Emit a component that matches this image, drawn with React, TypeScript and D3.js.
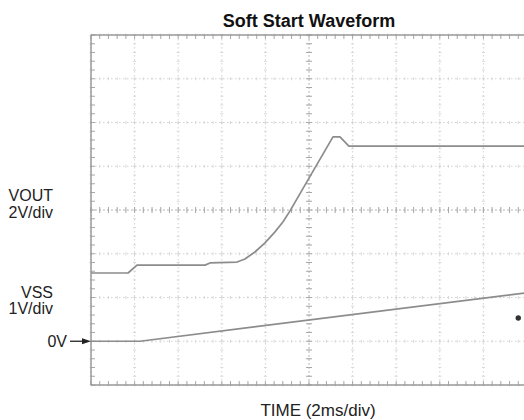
import React from "react";
import * as d3 from "d3";

// Time axis: 2 ms/div, 10 divisions; vertical axis: 8 screen divisions
const timeDomain = [0, 20];
const divDomain = [0, 8];
const timeGrid = [0, 2, 4, 6, 8, 10, 12, 14, 16, 18, 20];
const divGrid = [0, 1, 2, 3, 4, 5, 6, 7, 8];

// VOUT trace (2V/div), in screen divisions
const voutTime = [0, 1.7, 2.11, 5.23, 5.46, 6.7, 7.06, 7.52, 7.98, 8.44, 8.81, 9.13, 10.0, 11.1, 11.42, 11.83, 20];
const voutDiv = [2.56, 2.56, 2.74, 2.74, 2.79, 2.81, 2.88, 3.04, 3.25, 3.5, 3.73, 3.98, 4.73, 5.67, 5.67, 5.46, 5.46];

// VSS trace (1V/div), in screen divisions (0V at 1 div)
const vssTime = [0, 2.25, 20];
const vssDiv = [1.0, 1.0, 2.11];

const markerTime = [19.6];
const markerDiv = [1.53];

const title = "Soft Start Waveform";
const xLabel = "TIME (2ms/div)";
const vLabels = [
  { lines: ["VOUT", "2V/div"], div: 4.2 },
  { lines: ["VSS", "1V/div"], div: 2.0 },
];
const zeroLabel = "0V";
const zeroDiv = 1;

const W = 524;
const H = 420;

export default function App() {
  const x = d3.scaleLinear().domain(timeDomain).range([91, 527]);
  const y = d3.scaleLinear().domain(divDomain).range([385, 35]);
  const line = d3
    .line<[number, number]>()
    .x((d) => x(d[0]))
    .y((d) => y(d[1]));
  const vout = voutTime.map((t, i) => [t, voutDiv[i]] as [number, number]);
  const vss = vssTime.map((t, i) => [t, vssDiv[i]] as [number, number]);

  const minorX: number[] = [];
  for (let t = 0; t <= 20.0001; t += 0.4) minorX.push(t);
  const minorY: number[] = [];
  for (let d = 0; d <= 8.0001; d += 0.2) minorY.push(d);

  const gridColor = "#d4d4d4";
  const font = "Liberation Sans, Arial, Helvetica, sans-serif";
  const [x0, x1] = x.range();
  const [y0, y1] = y.range();

  return (
    <svg width={W} height={H} style={{ position: "fixed", left: 0, top: 0, background: "#fff" }}>
      <rect width={W} height={H} fill="#fff" />
      {/* dotted grid */}
      {timeGrid.map((t) => (
        <line key={"gv" + t} x1={x(t)} x2={x(t)} y1={y1} y2={y0} stroke={gridColor} strokeWidth={1} strokeDasharray="1.5,2.5" />
      ))}
      {divGrid.map((d) => (
        <line key={"gh" + d} x1={x0} x2={x1} y1={y(d)} y2={y(d)} stroke={gridColor} strokeWidth={1} strokeDasharray="1.5,2.5" />
      ))}
      {/* small marks on grid lines */}
      {timeGrid.map((t) =>
        minorY.map((d) => (
          <line key={"mv" + t + "_" + d} x1={x(t) - 1.5} x2={x(t) + 1.5} y1={y(d)} y2={y(d)} stroke="#d8d8d8" strokeWidth={1} />
        ))
      )}
      {divGrid.map((d) =>
        minorX.map((t) => (
          <line key={"mh" + d + "_" + t} x1={x(t)} x2={x(t)} y1={y(d) - 1.5} y2={y(d) + 1.5} stroke="#d8d8d8" strokeWidth={1} />
        ))
      )}
      {/* center axes with ticks */}
      <line x1={x(10)} x2={x(10)} y1={y1} y2={y0} stroke="#c4c4c4" strokeWidth={1} strokeDasharray="2,2" />
      <line x1={x0} x2={x1} y1={y(4)} y2={y(4)} stroke="#c4c4c4" strokeWidth={1} strokeDasharray="2,2" />
      {minorY.map((d) => (
        <line key={"cv" + d} x1={x(10) - 3} x2={x(10) + 3} y1={y(d)} y2={y(d)} stroke="#a8a8a8" strokeWidth={1} />
      ))}
      {minorX.map((t) => (
        <line key={"ch" + t} x1={x(t)} x2={x(t)} y1={y(4) - 3} y2={y(4) + 3} stroke="#a8a8a8" strokeWidth={1} />
      ))}
      {/* frame ticks */}
      {minorY.map((d) => (
        <line key={"lt" + d} x1={x0} x2={x0 + 4} y1={y(d)} y2={y(d)} stroke="#a8a8a8" strokeWidth={1} />
      ))}
      {minorX.map((t) => (
        <line key={"tt" + t} x1={x(t)} x2={x(t)} y1={y1} y2={y1 + 4} stroke="#a8a8a8" strokeWidth={1} />
      ))}
      {minorX.map((t) => (
        <line key={"bt" + t} x1={x(t)} x2={x(t)} y1={y0} y2={y0 - 4} stroke="#a8a8a8" strokeWidth={1} />
      ))}
      {/* frame */}
      <line x1={x0} x2={x0} y1={y1} y2={y0} stroke="#9a9a9a" strokeWidth={1.5} />
      <line x1={x0} x2={x1} y1={y1} y2={y1} stroke="#9a9a9a" strokeWidth={1.5} />
      <line x1={x0} x2={x1} y1={y0} y2={y0} stroke="#9a9a9a" strokeWidth={1.5} />

      {/* traces */}
      <path d={line(vout) || ""} fill="none" stroke="#8c8c8c" strokeWidth={1.7} strokeLinejoin="round" />
      <path d={line(vss) || ""} fill="none" stroke="#8c8c8c" strokeWidth={1.7} strokeLinejoin="round" />
      {markerTime.map((t, i) => (
        <circle key={"m" + i} cx={x(t)} cy={y(markerDiv[i])} r={2.7} fill="#333" />
      ))}

      {/* title */}
      <text x={x(10)} y={27} textAnchor="middle" fontFamily={font} fontWeight="bold" fontSize={18} fill="#111">
        {title}
      </text>
      {/* x label */}
      <text x={318} y={416} textAnchor="middle" fontFamily={font} fontSize={17} fill="#222">
        {xLabel}
      </text>
      {/* channel labels */}
      {vLabels.map((lab, i) => (
        <text key={"vl" + i} x={53} y={y(lab.div)} textAnchor="end" fontFamily={font} fontSize={16} fill="#222">
          {lab.lines.map((l, j) => (
            <tspan key={j} x={53} dy={j === 0 ? 0 : 16.5}>
              {l}
            </tspan>
          ))}
        </text>
      ))}
      <text x={67} y={y(zeroDiv) + 5.5} textAnchor="end" fontFamily={font} fontSize={16} fill="#222">
        {zeroLabel}
      </text>
      <line x1={70} x2={84} y1={y(zeroDiv)} y2={y(zeroDiv)} stroke="#222" strokeWidth={1.3} />
      <path d={`M${x0},${y(zeroDiv)} L${x0 - 9},${y(zeroDiv) - 3} L${x0 - 9},${y(zeroDiv) + 3} Z`} fill="#222" />
    </svg>
  );
}
